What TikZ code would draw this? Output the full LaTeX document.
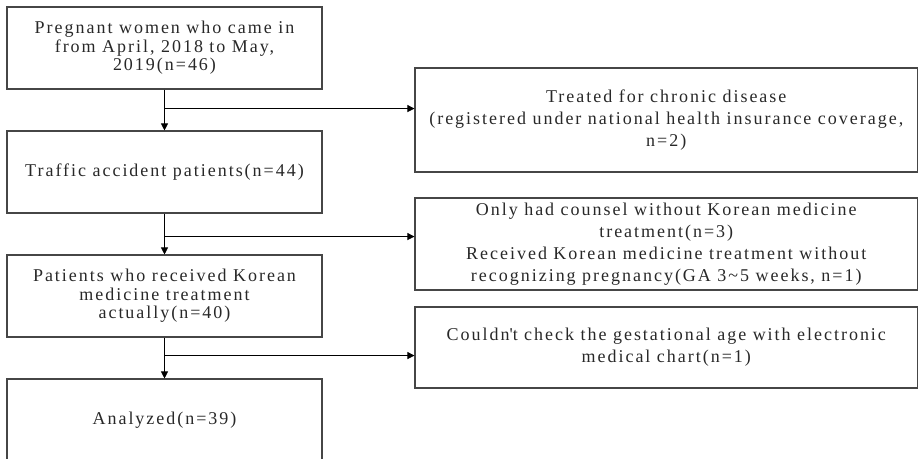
\documentclass[tikz,border=0pt]{standalone}
\usepackage{fontspec}
\setmainfont{Liberation Serif}[LetterSpace=11]
\usetikzlibrary{arrows.meta, positioning, calc}
\definecolor{boxline}{RGB}{70,70,70}
\definecolor{boxtext}{RGB}{40,40,40}

\begin{document}
\begin{tikzpicture}[x=1pt, y=-1pt,
  stage/.style={rectangle, draw=boxline, line width=1.1pt, align=center, text=boxtext,
                font=\fontsize{18}{18.5}\selectfont, minimum width=315pt,
                minimum height=82pt, inner sep=0pt},
  excl/.style={stage, minimum width=502.5pt, font=\fontsize{18}{22}\selectfont},
  arr/.style={-{Triangle[length=7pt, width=7pt]}, line width=0.8pt, black}
]
\useasboundingbox (0,0) rectangle (918,458);

% main flow
\node[stage] (S1) at (164.5,48) {Pregnant women who came in\\ from April, 2018 to May,\\ 2019(n=46)};
\node[stage] (S2) at (164.5,172) {Traffic accident patients(n=44)};
\node[stage] (S3) at (164.5,296) {Patients who received Korean\\ medicine treatment\\ actually(n=40)};
\node[stage] (S4) at (164.5,420) {Analyzed(n=39)};

% exclusions
\node[excl, minimum height=104pt] (E1) at (666.25,120) {Treated for chronic disease\\ (registered under national health insurance coverage,\\ n=2)};
\node[excl, minimum height=92pt] (E2) at (666.25,244) {Only had counsel without Korean medicine\\ treatment(n=3)\\ Received Korean medicine treatment without\\ recognizing pregnancy(GA 3\textasciitilde5 weeks, n=1)};
\node[excl, minimum height=81pt] (E3) at (666.25,347.5) {Couldn\textquotesingle t check the gestational age with electronic\\ medical chart(n=1)};

\coordinate (F1) at ([yshift=-19pt]S1.south);
\coordinate (F2) at ([yshift=-23pt]S2.south);
\coordinate (F3) at ([yshift=-18pt]S3.south);

\draw[arr] (S1) -- (S2);
\draw[arr] (S2) -- (S3);
\draw[arr] (S3) -- (S4);
\draw[arr] (F1) -- (F1 -| E1.west);
\draw[arr] (F2) -- (F2 -| E2.west);
\draw[arr] (F3) -- (F3 -| E3.west);
\end{tikzpicture}
\end{document}
